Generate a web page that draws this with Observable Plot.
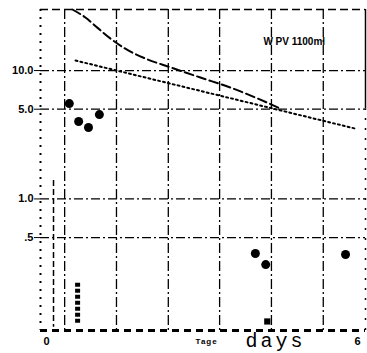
<!DOCTYPE html>
<html><head><meta charset="utf-8">
<script src="https://cdn.jsdelivr.net/npm/d3@7"></script>
<script src="https://cdn.jsdelivr.net/npm/@observablehq/plot@0.6"></script>
<style>body{margin:0;background:#fff} svg{display:block}</style>
</head><body><div id="chart"></div>
<script>
// early measured concentrations (upper cluster)
const earlyDays = [0.44, 0.62, 0.81, 1.02];
const earlyConc = [5.53, 4.01, 3.6, 4.54];
// late measured concentrations
const lateDays = [4.03, 4.23, 5.77];
const lateConc = [0.376, 0.308, 0.369];
// square marker
const squareDays = [4.26];
const squareConc = [0.111];
// dashed model curve
const curveDays = [0.50, 0.75, 0.98, 1.23, 1.52, 1.91, 2.39, 2.97, 3.55, 4.03, 4.51];
const curveConc = [29.9, 25.9, 21.6, 17.8, 14.8, 12.4, 10.6, 8.82, 7.37, 6.16, 5.06];
// dotted terminal fit
const fitDays = [0.56, 5.96];
const fitConc = [11.97, 3.53];
// grid
const gridDays = [0.35, 1.35, 2.35, 3.34, 4.34, 5.34];
const gridConc = [10, 5, 1, 0.5];
// ticks
const yTicks = [10, 5, 1, 0.5];
const yLabels = ["10.0", "5.0", "1.0", ".5"];
const xTicks = [0, 6];
const xLabels = ["0", "6"];
// scan marks
const bracketDays = [0.135];
const bracketTop = [1.39];
const bracketBottom = [0.1];
const stampDays = [0.6];
const stampTop = [0.22];
const stampBottom = [0.107];
// texts
const noteText = ["W PV 1100ml"];
const tageText = ["Tage"];
const daysText = ["days"];

const xDomain = [-0.116, 6.155];
const yDomain = [0.0944, 29.9];

const zip = (xs, ys) => xs.map((x, i) => ({x, y: ys[i]}));
const early = zip(earlyDays, earlyConc);
const late = zip(lateDays, lateConc);
const square = zip(squareDays, squareConc);
const curve = zip(curveDays, curveConc);
const fit = zip(fitDays, fitConc);
const bracket = bracketDays.map((x, i) => ({x, y1: bracketTop[i], y2: bracketBottom[i]}));
const stamp = stampDays.map((x, i) => ({x, y1: stampTop[i], y2: stampBottom[i]}));

const plot = Plot.plot({
  width: 367, height: 353,
  marginLeft: 40, marginRight: 2, marginTop: 9, marginBottom: 23,
  style: {fontFamily: "'Liberation Sans', Arial, sans-serif", background: "#fff", color: "#000"},
  x: {domain: xDomain},
  y: {type: "log", domain: yDomain},
  marks: [
    Plot.ruleX(gridDays, {stroke: "#000", strokeWidth: 1.3, strokeDasharray: "10,3,2,3"}),
    Plot.ruleY(gridConc, {stroke: "#000", strokeWidth: 1.3, strokeDasharray: "9,3,2,3"}),
    Plot.ruleX([xDomain[0]], {stroke: "#000", strokeWidth: 2, strokeDasharray: "2,6"}),
    Plot.ruleX([xDomain[1]], {y1: 5, y2: yDomain[1], stroke: "#000", strokeWidth: 1.5}),
    Plot.ruleX([xDomain[1]], {y1: yDomain[0], y2: 5, stroke: "#000", strokeWidth: 1.5, strokeDasharray: "2,8"}),
    Plot.ruleY([yDomain[1]], {stroke: "#000", strokeWidth: 1.6, strokeDasharray: "8,4"}),
    Plot.ruleY([yDomain[0]], {stroke: "#000", strokeWidth: 3, strokeDasharray: "7,5"}),
    Plot.ruleX(bracket, {x: "x", y1: "y1", y2: "y2", stroke: "#000", strokeWidth: 1.5, strokeDasharray: "6,3"}),
    Plot.ruleX(stamp, {x: "x", y1: "y1", y2: "y2", stroke: "#000", strokeWidth: 5, strokeDasharray: "4,2"}),
    Plot.line(curve, {x: "x", y: "y", stroke: "#000", strokeWidth: 2, strokeDasharray: "9,4", curve: "monotone-x"}),
    Plot.line(fit, {x: "x", y: "y", stroke: "#000", strokeWidth: 2, strokeDasharray: "2,3"}),
    Plot.dot(early, {x: "x", y: "y", r: 4.5, fill: "#000"}),
    Plot.dot(late, {x: "x", y: "y", r: 4.5, fill: "#000"}),
    Plot.dot(square, {x: "x", y: "y", symbol: "square", r: 3.5, fill: "#000"}),
    Plot.axisY({ticks: yTicks, tickFormat: d => yLabels[yTicks.indexOf(d)], tickSize: 6, tickPadding: 1, fontSize: 11, fontWeight: "bold", label: null}),
    Plot.axisX({ticks: xTicks, tickFormat: d => xLabels[xTicks.indexOf(d)], tickSize: 0, tickPadding: 7, fontSize: 11, fontWeight: "bold", label: null}),
    Plot.text(noteText, {x: 4.78, y: 16.8, text: d => d, fontSize: 10, fontWeight: "bold"}),
    Plot.text(tageText, {x: 3.09, y: 0.0776, text: d => d, fontSize: 8, fontWeight: "bold", clip: false}),
    Plot.text(daysText, {x: 4.42, y: 0.0789, text: d => d, fontSize: 20, fontFamily: "'Liberation Mono', monospace", clip: false})
  ]
});
d3.select(plot).selectAll("text").filter(function() { return this.textContent === "days"; }).style("letter-spacing", "3px");
d3.select(plot).selectAll("text").filter(function() { return this.textContent === "Tage"; }).style("letter-spacing", "1px");
document.getElementById("chart").appendChild(plot);
</script>
</body></html>
